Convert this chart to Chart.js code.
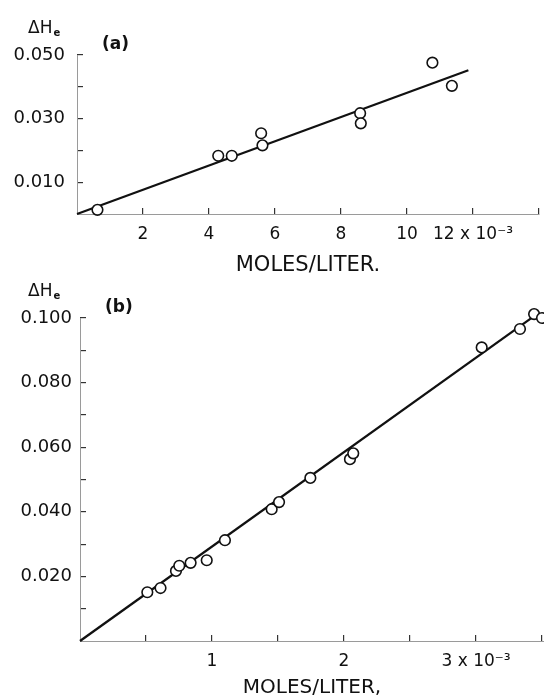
<!DOCTYPE html>
<html>
<head>
<meta charset="utf-8">
<script src="https://cdn.jsdelivr.net/npm/chart.js@4/dist/chart.umd.min.js"></script>
<style>
  body { margin: 0; background: #fff; }
  canvas { position: absolute; left: 0; }
  #chartA { top: 0; }
  #chartB { top: 280px; }
</style>
</head>
<body>
<canvas id="chartA" width="544" height="285"></canvas>
<canvas id="chartB" width="544" height="420"></canvas>
<script>
// Panel (a): concentration (x 10^-3 mol/L) vs heat
var concA = [0.62, 4.28, 4.69, 5.58, 5.62, 8.58, 8.60, 10.77, 11.36];
var heatA = [0.0013, 0.0183, 0.0183, 0.0254, 0.0216, 0.0317, 0.0285, 0.0476, 0.0403];
var fitConcA = [0, 11.86];
var fitHeatA = [0, 0.0452];

// Panel (b)
var concB = [0.51, 0.61, 0.727, 0.752, 0.838, 0.96, 1.098, 1.452, 1.508, 1.745, 2.045, 2.07, 3.043, 3.333, 3.44, 3.50];
var heatB = [0.0151, 0.0164, 0.0217, 0.0233, 0.0242, 0.0250, 0.0312, 0.0408, 0.0430, 0.0505, 0.0563, 0.0581, 0.0909, 0.0966, 0.1012, 0.1000];
var fitConcB = [0, 3.44];
var fitHeatB = [0, 0.1006];

// Tick labels (only these values get text, the rest are bare tick marks)
var xTickValsA = [2, 4, 6, 8, 10, 12];
var xTickTextA = ["2", "4", "6", "8", "10", "12 x 10\u207B\u00B3"];
var yTickValsA = [0.01, 0.03, 0.05];
var yTickTextA = ["0.010", "0.030", "0.050"];

var xTickValsB = [1, 2, 3];
var xTickTextB = ["1", "2", "3 x 10\u207B\u00B3"];
var yTickValsB = [0.02, 0.04, 0.06, 0.08, 0.10];
var yTickTextB = ["0.020", "0.040", "0.060", "0.080", "0.100"];

var FONT = "'DejaVu Sans', sans-serif";
var INK = "#111111";

function pairs(xs, ys) {
  return xs.map(function (x, i) { return { x: x, y: ys[i] }; });
}

function labeler(vals, texts) {
  return function (value) {
    var i = vals.findIndex(function (t) { return Math.abs(t - value) < 1e-9; });
    return i < 0 ? "" : texts[i];
  };
}

function tickColor(ctx) {
  return ctx.tick && ctx.tick.value === 0 ? "rgba(0,0,0,0)" : "#333333";
}

// Delta H_e axis label and panel letter above the plot
var panelTag = {
  id: "panelTag",
  afterDraw: function (chart, args, opts) {
    var ctx = chart.ctx;
    var top = chart.chartArea.top;
    var left = chart.chartArea.left;
    ctx.save();
    ctx.fillStyle = INK;
    ctx.textBaseline = "alphabetic";
    ctx.font = "17px " + FONT;
    ctx.fillText("\u0394H", 28, top - 22);
    var w = ctx.measureText("\u0394H").width;
    ctx.font = "bold 10px " + FONT;
    ctx.fillText("e", 28 + w + 1, top - 19);
    ctx.font = "bold 17px " + FONT;
    ctx.textBaseline = "middle";
    ctx.fillText(opts.text, left + 25, top - 10);
    ctx.restore();
  }
};

function makeChart(id, cfg) {
  return new Chart(document.getElementById(id).getContext("2d"), {
    type: "scatter",
    data: {
      datasets: [
        {
          data: pairs(cfg.xs, cfg.ys),
          pointStyle: "circle",
          pointRadius: 5.3,
          borderWidth: 1.6,
          borderColor: INK,
          backgroundColor: "#ffffff",
          clip: false
        },
        {
          data: pairs(cfg.fitX, cfg.fitY),
          showLine: true,
          pointRadius: 0,
          borderWidth: 2.3,
          borderColor: INK,
          clip: false
        }
      ]
    },
    options: {
      responsive: false,
      animation: false,
      devicePixelRatio: 1,
      layout: {
        autoPadding: false,
        padding: { top: cfg.padTop, right: cfg.padRight, left: 0, bottom: 0 }
      },
      plugins: {
        legend: { display: false },
        tooltip: { enabled: false },
        panelTag: { text: cfg.tag }
      },
      scales: {
        x: {
          type: "linear",
          min: 0,
          max: cfg.xMax,
          // fixed axis height; tick labels need no side room here
          afterFit: function (s) {
            s.height = cfg.xHeight;
            s.paddingLeft = 0;
            s.paddingRight = 0;
          },
          border: { color: "#9a9a9a", dash: [3, 3], width: 1 },
          grid: { drawOnChartArea: false, tickLength: -6, lineWidth: 1.2, color: tickColor },
          ticks: {
            stepSize: cfg.xStep,
            includeBounds: false,
            autoSkip: false,
            maxRotation: 0,
            padding: 16,
            color: INK,
            font: { family: FONT, size: 17 },
            callback: labeler(cfg.xVals, cfg.xText)
          },
          title: {
            display: true,
            text: cfg.xTitle,
            color: INK,
            font: { family: FONT, size: cfg.titleSize },
            padding: { top: 0, bottom: cfg.titlePad }
          }
        },
        y: {
          type: "linear",
          min: 0,
          max: cfg.yMax,
          afterFit: function (s) { s.width = cfg.yWidth; },
          border: { color: "#9a9a9a", dash: [3, 3], width: 1 },
          grid: { drawOnChartArea: false, tickLength: -6, lineWidth: 1.2, color: tickColor },
          ticks: {
            stepSize: 0.01,
            autoSkip: false,
            padding: cfg.yPad,
            color: INK,
            font: { family: FONT, size: 18 },
            callback: labeler(cfg.yVals, cfg.yText)
          }
        }
      }
    },
    plugins: [panelTag]
  });
}

var chartA = makeChart("chartA", {
  xs: concA, ys: heatA, fitX: fitConcA, fitY: fitHeatA,
  tag: "(a)",
  padTop: 55, padRight: 5,
  xMax: 14, xStep: 2, xHeight: 71, xVals: xTickValsA, xText: xTickTextA,
  xTitle: "MOLES/LITER.", titleSize: 21, titlePad: 7,
  yMax: 0.05, yWidth: 77, yPad: 18, yVals: yTickValsA, yText: yTickTextA
});

var chartB = makeChart("chartB", {
  xs: concB, ys: heatB, fitX: fitConcB, fitY: fitHeatB,
  tag: "(b)",
  padTop: 38, padRight: 0,
  xMax: 3.515, xStep: 0.5, xHeight: 59, xVals: xTickValsB, xText: xTickTextB,
  xTitle: "MOLES/LITER,", titleSize: 20, titlePad: 0,
  yMax: 0.10, yWidth: 80, yPad: 14, yVals: yTickValsB, yText: yTickTextB
});
</script>
</body>
</html>
